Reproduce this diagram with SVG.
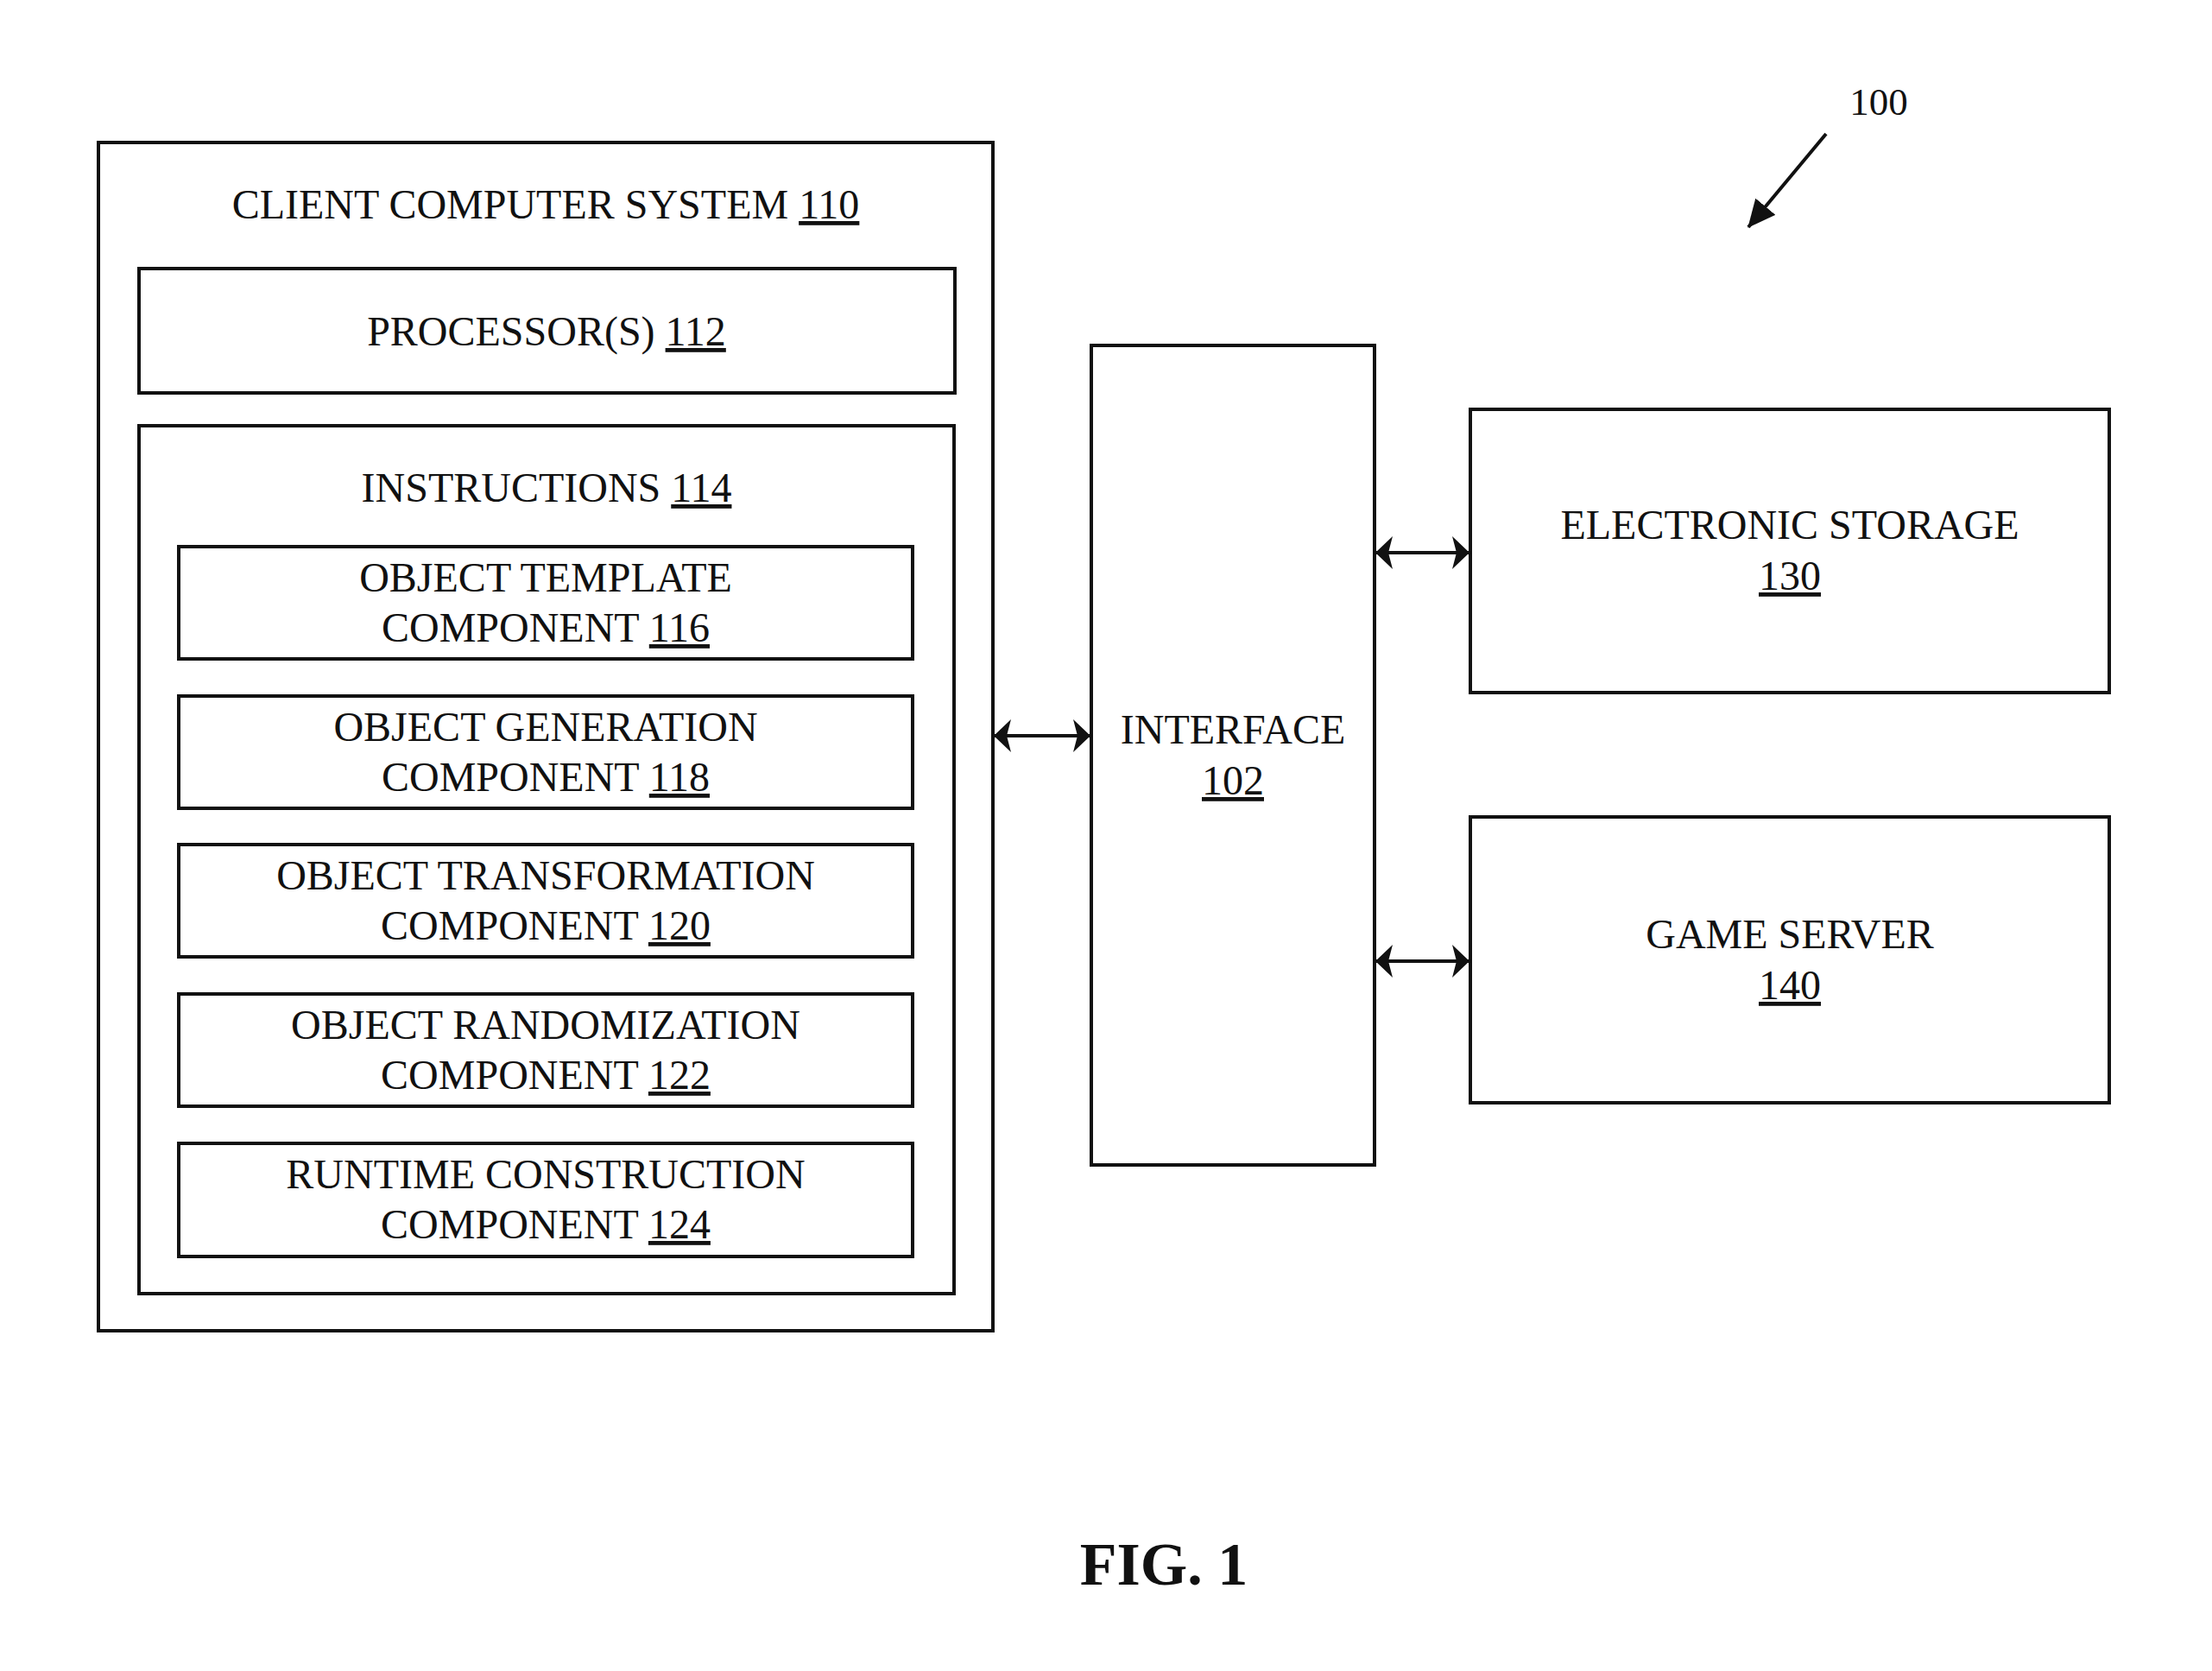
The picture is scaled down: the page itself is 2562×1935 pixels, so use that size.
<svg xmlns="http://www.w3.org/2000/svg" width="2562" height="1935" viewBox="0 0 2562 1935">
<defs>
<style>
.box{fill:none;stroke:#111;stroke-width:4}
.t{font-family:"Liberation Serif","Times New Roman",serif;font-size:48px;fill:#111;text-anchor:middle}
.u{text-decoration:underline}
.fig{font-family:"Liberation Serif","Times New Roman",serif;font-size:70px;font-weight:bold;fill:#111;text-anchor:middle}
.conn{stroke:#111;stroke-width:4;fill:none}
</style>
<marker id="ah" viewBox="0 0 20 38" refX="19" refY="19" markerWidth="20" markerHeight="38" markerUnits="userSpaceOnUse" orient="auto-start-reverse">
<path d="M0,0 L20,19 L0,38 L5,19 Z" fill="#111"/>
</marker>
<marker id="ah2" viewBox="0 0 32 30" refX="31" refY="15" markerWidth="32" markerHeight="30" markerUnits="userSpaceOnUse" orient="auto">
<path d="M0,0 L32,15 L0,30 Z" fill="#111"/>
</marker>
</defs>
<rect width="2562" height="1935" fill="#fff"/>

<g id="client">
<rect class="box" x="114" y="165" width="1036" height="1376"/>
<text class="t" x="632" y="253">CLIENT COMPUTER SYSTEM <tspan class="u">110</tspan></text>
</g>
<g id="processor">
<rect class="box" x="161" y="311" width="945" height="144"/>
<text class="t" x="633" y="400">PROCESSOR(S) <tspan class="u">112</tspan></text>
</g>
<g id="instructions">
<rect class="box" x="161" y="493" width="944" height="1005"/>
<text class="t" x="633" y="581">INSTRUCTIONS <tspan class="u">114</tspan></text>
</g>
<g id="c116">
<rect class="box" x="207" y="633" width="850" height="130"/>
<text class="t" x="632" y="685">OBJECT TEMPLATE</text>
<text class="t" x="632" y="743">COMPONENT <tspan class="u">116</tspan></text>
</g>
<g id="c118">
<rect class="box" x="207" y="806" width="850" height="130"/>
<text class="t" x="632" y="858">OBJECT GENERATION</text>
<text class="t" x="632" y="916">COMPONENT <tspan class="u">118</tspan></text>
</g>
<g id="c120">
<rect class="box" x="207" y="978" width="850" height="130"/>
<text class="t" x="632" y="1030">OBJECT TRANSFORMATION</text>
<text class="t" x="632" y="1088">COMPONENT <tspan class="u">120</tspan></text>
</g>
<g id="c122">
<rect class="box" x="207" y="1151" width="850" height="130"/>
<text class="t" x="632" y="1203">OBJECT RANDOMIZATION</text>
<text class="t" x="632" y="1261">COMPONENT <tspan class="u">122</tspan></text>
</g>
<g id="c124">
<rect class="box" x="207" y="1324" width="850" height="131"/>
<text class="t" x="632" y="1376">RUNTIME CONSTRUCTION</text>
<text class="t" x="632" y="1434">COMPONENT <tspan class="u">124</tspan></text>
</g>
<g id="interface">
<rect class="box" x="1264" y="400" width="328" height="949"/>
<text class="t" x="1428" y="861">INTERFACE</text>
<text class="t u" x="1428" y="920">102</text>
</g>
<g id="storage">
<rect class="box" x="1703" y="474" width="740" height="328"/>
<text class="t" x="2073" y="624">ELECTRONIC STORAGE</text>
<text class="t u" x="2073" y="683">130</text>
</g>
<g id="gameserver">
<rect class="box" x="1703" y="946" width="740" height="331"/>
<text class="t" x="2073" y="1098">GAME SERVER</text>
<text class="t u" x="2073" y="1157">140</text>
</g>
<g id="label100">
<text x="2176" y="133" style="font-family:'Liberation Serif','Times New Roman',serif;font-size:45px;fill:#111;text-anchor:middle">100</text>
</g>
<g id="connectors">
<line class="conn" x1="1152" y1="852" x2="1262" y2="852" marker-start="url(#ah)" marker-end="url(#ah)"/>
<line class="conn" x1="1594" y1="640" x2="1701" y2="640" marker-start="url(#ah)" marker-end="url(#ah)"/>
<line class="conn" x1="1594" y1="1113" x2="1701" y2="1113" marker-start="url(#ah)" marker-end="url(#ah)"/>
<line class="conn" x1="2115" y1="155" x2="2025" y2="263" marker-end="url(#ah2)"/>
</g>
<g id="caption">
<text class="fig" x="1348" y="1835">FIG. 1</text>
</g>
</svg>
